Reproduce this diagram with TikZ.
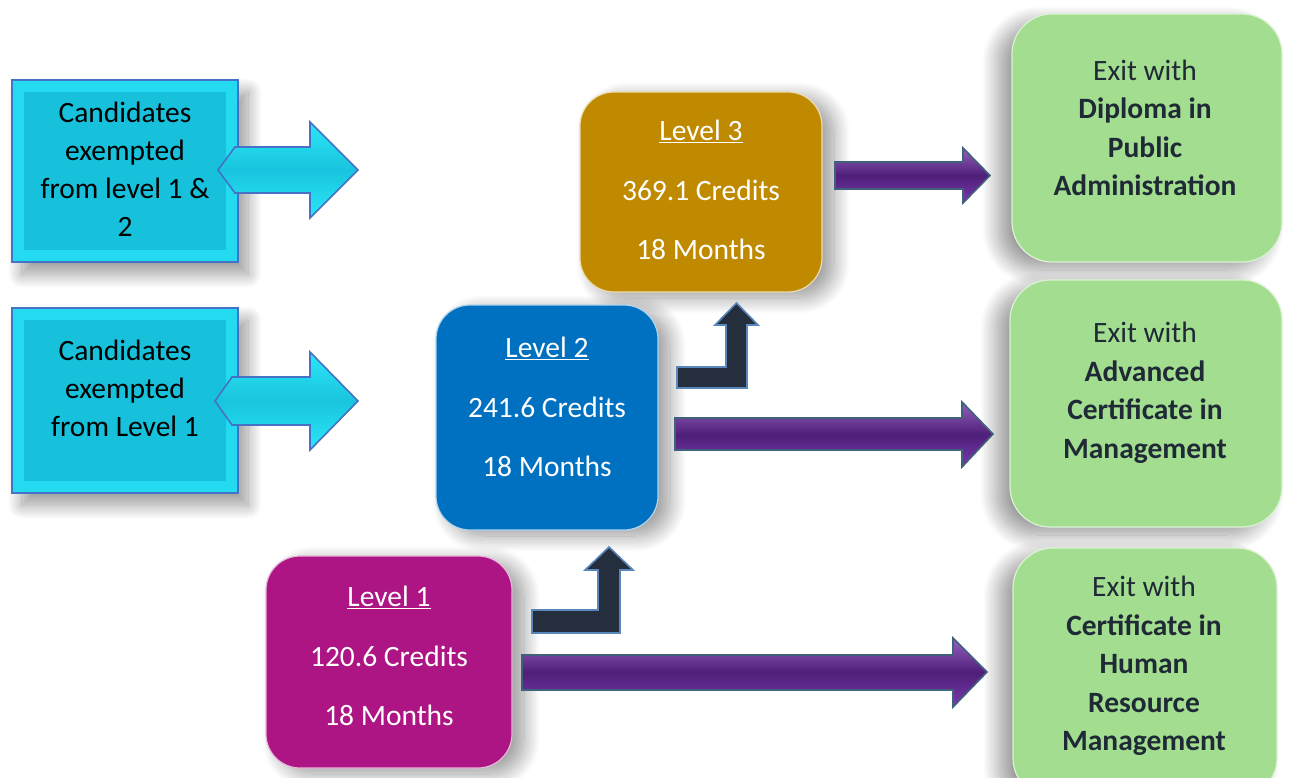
\documentclass[tikz,border=0pt]{standalone}
\usepackage{fontspec}
\setmainfont{Carlito}
\usetikzlibrary{shadows.blur}
\definecolor{cyanfill}{HTML}{17C1DB}
\definecolor{cyanlight}{HTML}{24DAF0}
\definecolor{cyanarrow}{HTML}{2BE6F8}
\definecolor{cyanborder}{HTML}{4472C4}
\definecolor{goldfill}{HTML}{BF8A00}
\definecolor{bluefill}{HTML}{0070C0}
\definecolor{magfill}{HTML}{AD1484}
\definecolor{greenfill}{HTML}{A3DE90}
\definecolor{purplefill}{HTML}{7A3AAE}
\definecolor{purpledark}{HTML}{4E1F78}
\definecolor{arrowborder}{HTML}{40607C}
\definecolor{darkfill}{HTML}{252E3C}
\definecolor{darkborder}{HTML}{5A87BB}
\definecolor{greentext}{HTML}{1F2A36}
\begin{document}
\begin{tikzpicture}[x=1pt,y=-1pt,
  cyanbox/.style={draw=cyanborder, line width=2pt, fill=cyanlight, rectangle,
    blur shadow={shadow xshift=10pt, shadow yshift=-12pt, shadow blur steps=20, shadow blur radius=14pt, shadow opacity=40}},
  levelbox/.style={rectangle, rounded corners=34pt, draw=white!70!#1, line width=1.2pt, fill=#1,
    blur shadow={shadow xshift=12pt, shadow yshift=-6pt, shadow blur steps=20, shadow blur radius=16pt, shadow opacity=40}},
  exitbox/.style={rectangle, rounded corners=40pt, draw=white!60!greenfill, line width=1.2pt, fill=greenfill,
    blur shadow={shadow xshift=-14pt, shadow yshift=-8pt, shadow blur steps=20, shadow blur radius=16pt, shadow opacity=40}},
  txt/.style={align=center, font=\fontsize{29.5pt}{38pt}\selectfont},
  lvltxt/.style={align=center, text=white, font=\fontsize{29.5pt}{59.5pt}\selectfont},
  exittxt/.style={align=center, text=greentext, font=\fontsize{29.5pt}{38.5pt}\selectfont},
  cyanarr/.style={draw=cyanborder, line width=1.6pt, top color=cyanarrow, bottom color=cyanarrow, middle color=cyanfill!90!cyanarrow},
  purplearr/.style={draw=arrowborder, line width=1.6pt, top color=purplefill!80!white, bottom color=purplefill, middle color=purpledark, line join=miter},
  darkarr/.style={draw=darkborder, line width=1.6pt, fill=darkfill, line join=miter}
]
\useasboundingbox (0,0) rectangle (1291,778);

% exit boxes
\node[exitbox, minimum width=270pt, minimum height=248pt] (e1) at (1147,138) {};
\node[exitbox, minimum width=272pt, minimum height=247pt] (e2) at (1146,403.5) {};
\node[exitbox, minimum width=264pt, minimum height=250pt] (e3) at (1145,673) {};

% candidate boxes
\node[cyanbox, minimum width=226pt, minimum height=182pt] (c1) at (125,171) {};
\node[cyanbox, minimum width=226pt, minimum height=185pt] (c2) at (125,400.5) {};
\fill[cyanfill] (24,92) -- (226,92) -- (226,250) -- (24,250) -- cycle;
\fill[cyanfill] (24,320) -- (226,320) -- (226,481) -- (24,481) -- cycle;

% level boxes
\node[levelbox=goldfill, minimum width=242pt, minimum height=200pt] (l3) at (701,192) {};
\node[levelbox=bluefill, minimum width=222pt, minimum height=225pt] (l2) at (547,417.5) {};
\node[levelbox=magfill, minimum width=246pt, minimum height=212pt] (l1) at (389,662) {};

% cyan arrows
\draw[cyanarr] (218,170) -- (235,147) -- (310,147) -- (310,122) -- (358,170) -- (310,218) -- (310,193) -- (235,193) -- cycle;
\draw[cyanarr] (215,401) -- (232,377) -- (310,377) -- (310,352) -- (358,401) -- (310,450) -- (310,425) -- (232,425) -- cycle;

% purple arrows
\draw[purplearr] (835,162) -- (963,162) -- (963,148) -- (990,175.5) -- (963,203) -- (963,189) -- (835,189) -- cycle;
\draw[purplearr] (675,418) -- (962,418) -- (962,402) -- (993,434) -- (962,467) -- (962,450) -- (675,450) -- cycle;
\draw[purplearr] (522,655) -- (953,655) -- (953,638) -- (987,672) -- (953,707) -- (953,690) -- (522,690) -- cycle;

% elbow arrows
\draw[darkarr] (677,367) -- (726,367) -- (726,325) -- (715,325) -- (736.5,303) -- (758,325) -- (747,325) -- (747,388) -- (677,388) -- cycle;
\draw[darkarr] (532,610) -- (598,610) -- (598,570) -- (585,570) -- (609,547) -- (633,570) -- (620,570) -- (620,633) -- (532,633) -- cycle;

% texts
\node[txt] (t1) at (125,169) {Candidates\\exempted\\from level 1 \&\\2};
\node[txt] (t2) at (125,388) {Candidates\\exempted\\from Level 1};
\node[lvltxt] (t3) at (701,190) {\underline{Level 3}\\369.1 Credits\\18 Months};
\node[lvltxt] (t4) at (547,407) {\underline{Level 2}\\241.6 Credits\\18 Months};
\node[lvltxt] (t5) at (389,656) {\underline{Level 1}\\120.6 Credits\\18 Months};
\node[exittxt] (x1) at (1145,128) {Exit with\\\textbf{Diploma in}\\\textbf{Public}\\\textbf{Administration}};
\node[exittxt] (x2) at (1145,393) {Exit with\\\textbf{Advanced}\\\textbf{Certificate in}\\\textbf{Management}};
\node[exittxt] (x3) at (1144,666) {Exit with\\\textbf{Certificate in}\\\textbf{Human}\\\textbf{Resource}\\\textbf{Management}};
\end{tikzpicture}
\end{document}
